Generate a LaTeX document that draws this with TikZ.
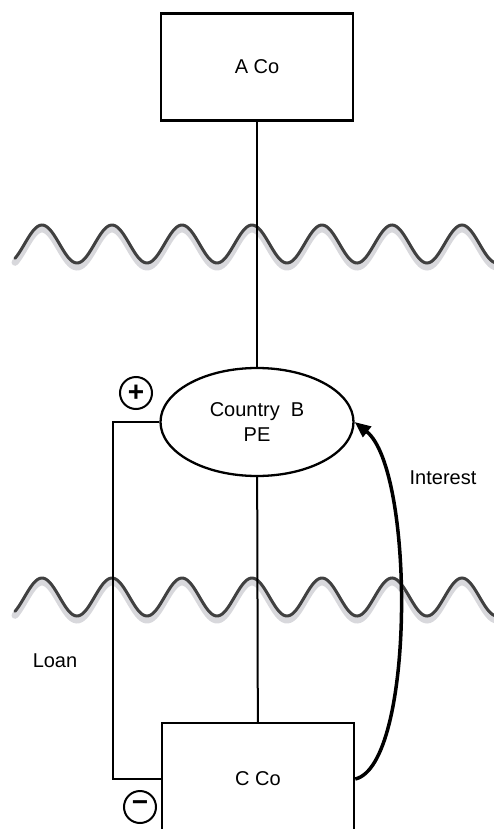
\documentclass[tikz,border=0pt]{standalone}
\usepackage{fontspec}
\setmainfont{Liberation Sans}
\usepackage{tikz}
\usetikzlibrary{arrows.meta,positioning,shapes.geometric,calc}
\definecolor{bk90}{HTML}{363636}
\definecolor{wavegray}{HTML}{404040}
\definecolor{shadowgray}{HTML}{D8D8DC}
\tikzset{
  cobox/.style={
    rectangle, draw=black, line width=2.5pt,
    minimum width=192pt, minimum height=#1,
    font=\fontsize{20}{24}\selectfont, align=center
  },
  cobox/.default=107pt,
  pebox/.style={
    ellipse, draw=black, line width=2.3pt,
    minimum width=193pt, minimum height=108pt, inner sep=0pt,
    font=\fontsize{20}{25}\selectfont, align=center
  },
  signnode/.style={
    circle, draw=black, line width=2pt, minimum size=32pt, inner sep=0pt,
    font=\fontsize{28}{28}\selectfont\bfseries
  },
  link/.style={draw=black, line width=2pt},
  flowarrow/.style={
    -{Triangle[length=16pt, width=13pt]}, line width=3.5pt, color=black
  },
  waveline/.style={draw=wavegray, line width=3pt, line cap=round},
  waveshadow/.style={draw=shadowgray, line width=7pt, line cap=round},
  labelnode/.style={font=\fontsize{20}{24}\selectfont}
}
\begin{document}
\begin{tikzpicture}[x=1pt, y=-1pt]
  \useasboundingbox (0,0) rectangle (494,829);
  \clip (0,0) rectangle (494,829);

  % borders between the countries
  \foreach \yy in {244, 597} {
    \draw[waveshadow] plot[domain=15:505, samples=240, smooth]
      (\x, {\yy + 4 - 19*cos(5.142857*(\x-42))});
    \draw[waveline] plot[domain=15:505, samples=240, smooth]
      (\x, {\yy - 19*cos(5.142857*(\x-42))});
  }

  % companies
  \node[cobox, fill=white] (aco) at (257,67) {A Co};
  \node[pebox, fill=white] (pe) at (257,422) {Country\ \ B\\PE};
  \node[cobox=112pt, fill=white] (cco) at (258,779) {C Co};

  % ownership line
  \draw[link] (aco) -- (pe);
  \draw[link] (pe) -- (cco);

  % loan
  \coordinate (loanx) at (113,0);
  \draw[link] (pe.west) -- (pe.west -| loanx) |- (cco.west);
  \node[signnode] (plus) at (136,393) {+};
  \node[signnode] (minus) at (140,807) {\raisebox{1pt}{−}};
  \node[labelnode] (loan) at (55,661) {Loan};

  % interest
  \draw[flowarrow] (cco.east) .. controls (415,765) and (415,470) .. (pe.east);
  \node[labelnode] (interest) at (443,478) {Interest};
\end{tikzpicture}
\end{document}
